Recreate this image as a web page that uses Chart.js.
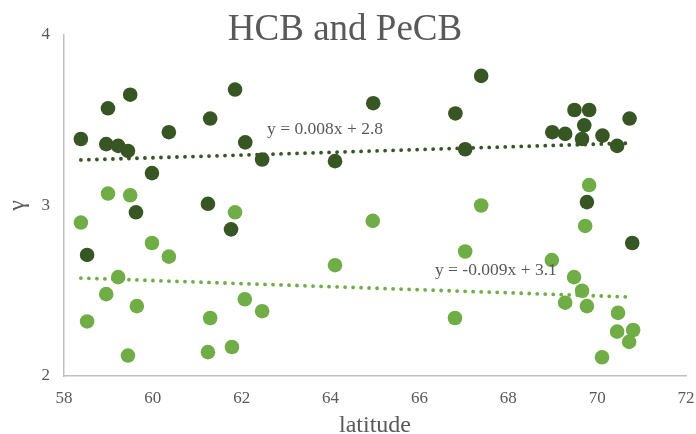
<!DOCTYPE html>
<html>
<head>
<meta charset="utf-8">
<script src="https://cdn.jsdelivr.net/npm/chart.js@4.4.1/dist/chart.umd.min.js"></script>
<style>
  html, body { margin: 0; padding: 0; background: #fff; }
  #wrap { width: 696px; height: 434px; }
</style>
</head>
<body>
<div id="wrap"><canvas id="chart" width="696" height="434"></canvas></div>
<script>
// ---- data ----
const hcbLat = [58.38, 58.52, 58.95, 58.99, 59.22, 59.44, 59.49, 59.62, 59.98, 60.36,
  61.24, 61.29, 61.76, 61.85, 62.08, 62.46, 64.10, 64.96, 66.81, 67.03, 67.39,
  68.99, 69.28, 69.49, 69.66, 69.71, 69.77, 69.82, 70.12, 70.45, 70.73, 70.79];
const hcbVal = [3.39, 2.71, 3.36, 3.57, 3.35, 3.32, 3.65, 2.96, 3.19, 3.43,
  3.01, 3.51, 2.86, 3.68, 3.37, 3.27, 3.26, 3.60, 3.54, 3.33, 3.76,
  3.43, 3.42, 3.56, 3.39, 3.47, 3.02, 3.56, 3.41, 3.35, 3.51, 2.78];

const pecbLat = [58.38, 58.52, 58.95, 58.99, 59.22, 59.44, 59.49, 59.64, 59.98, 60.36,
  61.24, 61.29, 61.78, 61.85, 62.07, 62.46, 64.10, 64.95, 66.80, 67.03, 67.39,
  68.98, 69.28, 69.48, 69.66, 69.73, 69.77, 69.82, 70.11, 70.45, 70.47, 70.72, 70.81];
const pecbVal = [2.90, 2.32, 2.48, 3.07, 2.58, 2.12, 3.06, 2.41, 2.78, 2.70,
  2.14, 2.34, 2.17, 2.96, 2.45, 2.38, 2.65, 2.91, 2.34, 2.73, 3.00,
  2.68, 2.43, 2.58, 2.50, 2.88, 2.41, 3.12, 2.11, 2.26, 2.37, 2.20, 2.27];

// linear trend fits (slope, intercept) as printed on the chart
const hcbFit = [0.008, 2.8];
const pecbFit = [-0.009, 3.1];

const xTicks = [58, 60, 62, 64, 66, 68, 70, 72];
const yTicks = [2, 3, 4];

const DARK = "#375623";
const LIGHT = "#70AD47";
const TEXT = "#595959";
const SERIF = "'Liberation Serif', 'Times New Roman', serif";

function toPoints(xs, ys) {
  return xs.map((x, i) => ({ x: x, y: ys[i] }));
}

function trend(xs, fit) {
  const lo = Math.min(...xs);
  const hi = Math.max(...xs);
  return [lo, hi].map((x) => ({ x: x, y: fit[0] * x + fit[1] }));
}

function eqText(fit) {
  const sign = fit[1] < 0 ? "-" : "+";
  return "y = " + fit[0].toFixed(3) + "x " + sign + " " + Math.abs(fit[1]).toFixed(1);
}

// title + trend equations, drawn on top
const overlay = {
  id: "overlay",
  afterDraw(chart) {
    const ctx = chart.ctx;
    const xs = chart.scales.x;
    const ys = chart.scales.y;
    ctx.save();
    ctx.fillStyle = TEXT;
    ctx.textBaseline = "alphabetic";

    ctx.font = "37px " + SERIF;
    ctx.textAlign = "center";
    ctx.fillText("HCB and PeCB", 345, 40);

    ctx.font = "17.5px " + SERIF;
    ctx.textAlign = "left";
    ctx.fillText(eqText(hcbFit), xs.getPixelForValue(62.57), ys.getPixelForValue(3.42));
    ctx.fillText(eqText(pecbFit), xs.getPixelForValue(66.35), ys.getPixelForValue(2.59));
    ctx.restore();
  },
};

new Chart(document.getElementById("chart"), {
  type: "scatter",
  data: {
    datasets: [
      {
        label: "HCB",
        data: toPoints(hcbLat, hcbVal),
        backgroundColor: DARK,
        borderColor: DARK,
        pointRadius: 7.3,
        pointBorderWidth: 0,
        order: 0,
      },
      {
        label: "PeCB",
        data: toPoints(pecbLat, pecbVal),
        backgroundColor: LIGHT,
        borderColor: LIGHT,
        pointRadius: 7.3,
        pointBorderWidth: 0,
        order: 1,
      },
      {
        type: "line",
        label: "HCB trend",
        data: trend(hcbLat, hcbFit),
        borderColor: DARK,
        borderWidth: 3.8,
        borderDash: [0.01, 8],
        borderCapStyle: "round",
        pointRadius: 0,
        fill: false,
        order: 2,
      },
      {
        type: "line",
        label: "PeCB trend",
        data: trend(pecbLat, pecbFit),
        borderColor: LIGHT,
        borderWidth: 3.8,
        borderDash: [0.01, 8],
        borderCapStyle: "round",
        pointRadius: 0,
        fill: false,
        order: 3,
      },
    ],
  },
  options: {
    responsive: false,
    devicePixelRatio: 1,
    animation: false,
    layout: { padding: { left: 0, right: 0, top: 35, bottom: 0 } },
    plugins: {
      legend: { display: false },
      tooltip: { enabled: false },
    },
    scales: {
      x: {
        type: "linear",
        min: xTicks[0],
        max: xTicks[xTicks.length - 1],
        afterBuildTicks: (s) => { s.ticks = xTicks.map((v) => ({ value: v })); },
        afterFit: (s) => {
          s.height = 58;
          s.paddingLeft = 0;
          s.paddingRight = 10;
        },
        grid: { drawOnChartArea: false, drawTicks: false },
        border: { color: "#BFBFBF", width: 1.5 },
        ticks: { color: TEXT, font: { family: SERIF, size: 17 }, padding: 12 },
        title: {
          display: true,
          text: "latitude",
          color: TEXT,
          font: { family: SERIF, size: 24 },
          padding: { top: 0, bottom: -6 },
        },
      },
      y: {
        type: "linear",
        min: yTicks[0],
        max: yTicks[yTicks.length - 1],
        afterBuildTicks: (s) => { s.ticks = yTicks.map((v) => ({ value: v })); },
        afterFit: (s) => { s.width = 64; },
        grid: { drawOnChartArea: false, drawTicks: false },
        border: { color: "#BFBFBF", width: 1.5 },
        ticks: { color: TEXT, font: { family: SERIF, size: 17 }, padding: 14 },
        title: {
          display: true,
          text: "γ",
          color: TEXT,
          font: { family: SERIF, size: 24 },
          padding: { top: 3, bottom: 15 },
        },
      },
    },
  },
  plugins: [overlay],
});
</script>
</body>
</html>
